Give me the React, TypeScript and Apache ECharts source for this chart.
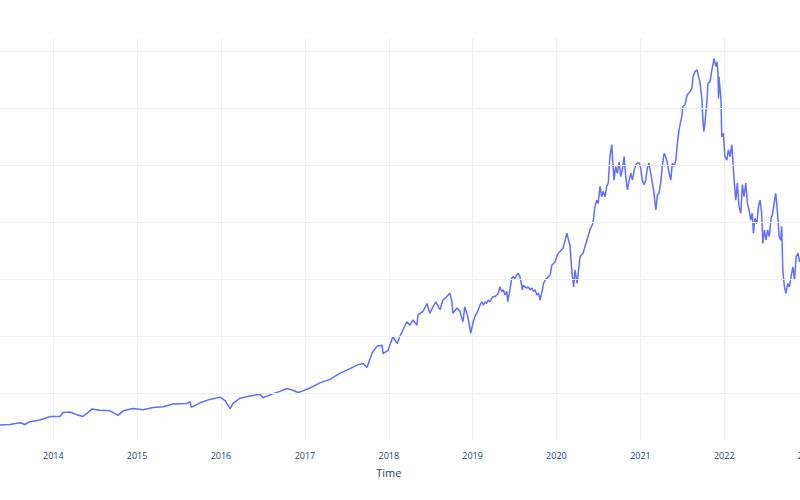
import React, { useEffect, useRef } from "react";
import * as echarts from "echarts";

// [date, closing price]
const PRICES_2013_2017: [string, number][] = [
  ["2013-01-02",40],["2013-03-01",41],["2013-05-14",45],["2013-06-26",46],["2013-08-09",49],["2013-08-30",46],["2013-09-21",51],["2013-11-04",54],["2013-12-18",60],
  ["2014-01-30",60],["2014-02-12",67],["2014-03-15",68],["2014-04-14",63],["2014-05-10",60],["2014-06-18",73],["2014-07-23",71],["2014-09-05",70],["2014-10-10",62],["2014-11-01",70],["2014-12-14",74],
  ["2015-01-27",72],["2015-03-11",76],["2015-04-24",77],["2015-06-06",82],["2015-08-06",83],["2015-08-19",86],["2015-08-25",76],["2015-10-02",84],["2015-11-14",90],["2015-12-28",94],
  ["2016-01-19",88],["2016-02-10",74],["2016-02-23",83],["2016-03-24",92],["2016-05-07",96],["2016-06-19",99],["2016-07-02",93],["2016-08-02",98],["2016-09-14",104],["2016-10-15",109],["2016-11-10",106],["2016-12-02",102],["2016-12-23",105],
  ["2017-01-23",110],["2017-03-07",119],["2017-04-20",125],["2017-06-03",136],["2017-07-16",144],["2017-08-16",150],["2017-09-11",153],["2017-09-28",146],["2017-10-20",171],["2017-11-11",183],["2017-12-03",185],["2017-12-07",170],["2017-12-29",176]
];

const PRICES_2018_2019: [string, number][] = [
  ["2018-01-19",200],["2018-02-06",188],["2018-02-19",201],["2018-03-04",212],["2018-03-21",226],["2018-04-03",220],["2018-04-16",229],["2018-05-04",220],["2018-05-08",238],["2018-05-30",244],["2018-06-16",258],["2018-06-29",241],["2018-07-12",252],["2018-07-25",261],["2018-08-12",247],["2018-08-25",264],["2018-09-11",270],["2018-09-24",276],["2018-10-03",261],["2018-10-07",241],["2018-10-25",250],["2018-11-07",244],["2018-11-20",226],["2018-11-28",252],["2018-12-11",235],["2018-12-20",215],["2018-12-24",206],
  ["2019-01-04",226],["2019-01-11",235],["2019-01-19",241],["2019-01-26",247],["2019-02-02",255],["2019-02-10",261],["2019-02-17",255],["2019-02-24",261],["2019-03-03",258],["2019-03-10",264],["2019-03-18",261],["2019-03-25",267],["2019-04-01",270],["2019-04-09",270],["2019-04-16",273],["2019-04-23",276],["2019-04-30",287],["2019-05-08",279],["2019-05-15",282],["2019-05-22",273],["2019-05-30",279],["2019-06-03",261],["2019-06-10",276],["2019-06-16",290],["2019-06-20",302],["2019-06-27",305],
  ["2019-07-05",302],["2019-07-12",308],["2019-07-19",311],["2019-07-26",305],["2019-07-31",296],["2019-08-06",282],["2019-08-10",290],["2019-08-17",287],["2019-08-25",285],["2019-09-01",287],["2019-09-08",282],["2019-09-16",285],["2019-09-23",279],["2019-09-30",282],["2019-10-08",273],["2019-10-15",276],["2019-10-22",264],["2019-10-29",276],["2019-11-06",293],["2019-11-13",299],["2019-11-20",302],["2019-11-28",305],["2019-12-05",308],["2019-12-12",325],["2019-12-19",328],["2019-12-27",331]
];

const PRICES_2020_2021: [string, number][] = [
  ["2020-01-02",340],["2020-01-09",346],["2020-01-17",349],["2020-01-30",355],["2020-02-16",381],["2020-02-21",372],["2020-02-29",360],["2020-03-09",311],["2020-03-16",287],["2020-03-22",317],["2020-03-31",293],["2020-04-13",340],["2020-04-26",346],["2020-05-13",369],["2020-05-26",387],["2020-06-08",398],["2020-06-17",428],["2020-06-25",439],["2020-07-01",433],["2020-07-09",463],["2020-07-16",445],["2020-07-23",454],["2020-07-31",445],["2020-08-07",463],["2020-08-14",469],["2020-08-21",515],["2020-08-29",536],["2020-09-02",509],["2020-09-08",474],["2020-09-15",498],["2020-09-22",486],["2020-09-30",506],["2020-10-07",480],["2020-10-14",492],["2020-10-22",515],["2020-10-29",480],["2020-11-05",457],["2020-11-13",474],["2020-11-20",486],["2020-11-27",474],["2020-12-05",492],["2020-12-12",501],["2020-12-19",504],["2020-12-27",504],
  ["2021-01-02",495],["2021-01-09",474],["2021-01-17",466],["2021-01-24",474],["2021-01-31",495],["2021-02-07",504],["2021-02-15",486],["2021-02-22",469],["2021-03-01",451],["2021-03-09",422],["2021-03-16",448],["2021-03-23",451],["2021-03-30",469],["2021-04-06",498],["2021-04-14",521],["2021-04-21",515],["2021-04-28",504],["2021-05-06",486],["2021-05-13",474],["2021-05-20",504],["2021-05-28",498],["2021-06-04",509],["2021-06-11",539],["2021-06-18",562],["2021-06-22",570],
  ["2021-07-01",588],["2021-07-05",603],["2021-07-14",606],["2021-07-23",623],["2021-08-05",629],["2021-08-13",635],["2021-08-18",655],["2021-08-26",664],["2021-09-04",667],["2021-09-08",661],["2021-09-17",646],["2021-09-26",614],["2021-09-30",579],["2021-10-04",559],["2021-10-09",574],["2021-10-18",614],["2021-10-22",644],["2021-10-31",646],["2021-11-08",667],["2021-11-13",676],["2021-11-17",687],["2021-11-26",673],["2021-11-30",681],["2021-12-05",661],["2021-12-07",617],["2021-12-09",655],["2021-12-18",614],["2021-12-21",550],["2021-12-28",556]
];

const PRICES_2022: [string, number][] = [
  ["2022-01-04",515],["2022-01-12",509],["2022-01-19",527],["2022-01-26",515],["2022-02-03",536],["2022-02-07",512],["2022-02-13",474],["2022-02-20",439],["2022-02-27",469],["2022-03-06",428],["2022-03-14",416],["2022-03-21",466],["2022-03-28",445],["2022-04-05",469],["2022-04-12",433],["2022-04-19",422],["2022-04-26",404],["2022-05-03",416],["2022-05-08",381],["2022-05-15",407],["2022-05-23",398],["2022-05-30",428],["2022-06-06",439],["2022-06-13",416],["2022-06-18",363],["2022-06-25",387],
  ["2022-07-02",369],["2022-07-09",387],["2022-07-16",375],["2022-07-24",407],["2022-07-31",416],["2022-08-06",433],["2022-08-13",451],["2022-08-20",422],["2022-08-28",375],["2022-09-04",369],["2022-09-08",393],["2022-09-13",317],["2022-09-20",287],["2022-09-27",276],["2022-10-05",293],["2022-10-12",287],["2022-10-19",305],["2022-10-27",322],["2022-11-03",299],["2022-11-10",340],["2022-11-18",346],["2022-11-25",331],["2022-12-01",335],["2022-12-15",345]
];

const Y_GRID: number[] = [100, 200, 300, 400, 500, 600, 700];

const X_MIN = "2013-01-01";
const X_MAX = "2023-01-01";
const Y_MIN = 18.9;
const Y_MAX = 722.9;

export default function App() {
  const ref = useRef<HTMLDivElement>(null);
  useEffect(() => {
    if (!ref.current) return;
    const chart = echarts.init(ref.current, undefined, { renderer: "svg" });
    const data = [...PRICES_2013_2017, ...PRICES_2018_2019, ...PRICES_2020_2021, ...PRICES_2022];
    const DAY = 86400000;
    chart.setOption({
      animation: false,
      backgroundColor: "#ffffff",
      textStyle: { fontFamily: "'Open Sans', sans-serif" },
      grid: { left: -30.5, right: -8.06, top: 38, bottom: 60, containLabel: false, outerBoundsMode: "none" },
      xAxis: {
        type: "time",
        min: X_MIN,
        max: X_MAX,
        splitNumber: 10,
        minInterval: 365 * DAY,
        maxInterval: 366 * DAY,
        axisLine: { show: false },
        axisTick: { show: false },
        splitLine: { show: true, lineStyle: { color: "#ebf0f8", width: 1 } },
        axisLabel: {
          color: "#2a3f5f",
          fontSize: 9,
          margin: 11,
          hideOverlap: false,
          showMinLabel: false,
          showMaxLabel: true,
          fontFamily: "'Open Sans', sans-serif",
          formatter: (v: number) => {
            const d = new Date(v);
            if (d.getFullYear() === 2013) return "";
            return d.getMonth() === 0 && d.getDate() === 1 ? String(d.getFullYear()) : "";
          },
        },
        name: "Time",
        nameLocation: "middle",
        nameGap: 27,
        nameTextStyle: { color: "#2a3f5f", fontSize: 11, fontFamily: "'Open Sans', sans-serif" },
      },
      yAxis: {
        type: "value",
        min: Y_MIN,
        max: Y_MAX,
        axisLine: { show: false },
        axisTick: { show: false },
        axisLabel: { show: false },
        splitLine: { show: false },
      },
      series: [
        {
          type: "line",
          data: [],
          z: 1,
          silent: true,
          markLine: {
            silent: true,
            symbol: ["none", "none"],
            label: { show: false },
            lineStyle: { color: "#ebf0f8", type: "solid", width: 1 },
            emphasis: { disabled: true },
            data: Y_GRID.map((v) => ({ yAxis: v })),
          },
        },
        {
          type: "line",
          data,
          z: 3,
          showSymbol: false,
          symbol: "none",
          lineStyle: { color: "#636efa", width: 1.5 },
          itemStyle: { color: "#636efa" },
        },
      ],
    });
    return () => chart.dispose();
  }, []);
  return (
    <div
      ref={ref}
      style={{ position: "fixed", left: 0, top: 0, width: 800, height: 500, background: "#fff" }}
    />
  );
}
